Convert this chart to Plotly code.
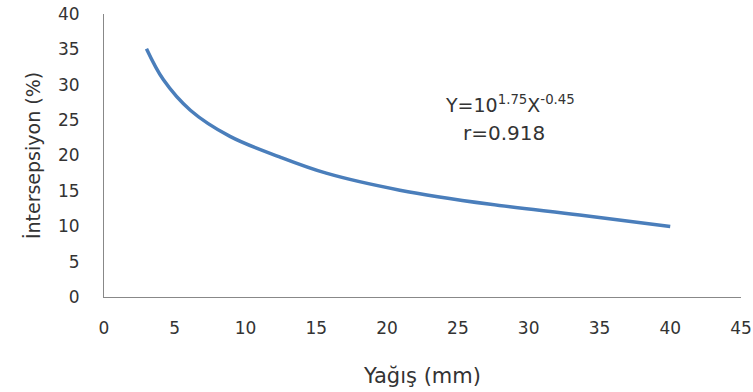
import plotly.graph_objects as go

yagis = [3.0, 4.2, 6.1, 8.9, 12.4, 15.7, 20.9, 27.3, 33.6, 40.0]
intersepsiyon = [35.1, 30.7, 26.4, 22.7, 19.8, 17.5, 15.1, 13.1, 11.6, 9.95]

x_ticks = [0, 5, 10, 15, 20, 25, 30, 35, 40, 45]
y_ticks = [0, 5, 10, 15, 20, 25, 30, 35, 40]

fig = go.Figure()
fig.add_trace(go.Scatter(
    x=yagis, y=intersepsiyon, mode="lines",
    line=dict(color="#4a7ebb", width=3.5, shape="spline", smoothing=1.0),
    showlegend=False, hoverinfo="skip",
))

font_fam = "DejaVu Sans, Verdana, sans-serif"
txt_col = "#333333"
fig.update_layout(
    width=753, height=392,
    margin=dict(l=104, r=12, t=14, b=95),
    paper_bgcolor="white", plot_bgcolor="white",
    font=dict(family=font_fam, size=17, color=txt_col),
    xaxis=dict(
        range=[0, 45], tickvals=x_ticks, showgrid=False, zeroline=False,
        showline=True, linecolor="#888888", linewidth=1, ticks="",
        ticklabelstandoff=16, automargin=False, ticklabeloverflow="allow",
        title=dict(text="Yağış (mm)", font=dict(size=21), standoff=30),
    ),
    yaxis=dict(
        range=[0, 40], tickvals=y_ticks, showgrid=False, zeroline=False,
        showline=True, linecolor="#888888", linewidth=1, ticks="",
        ticklabelstandoff=20, automargin=False, ticklabeloverflow="allow",
        title=dict(text="İntersepsiyon (%)", font=dict(size=19), standoff=12),
    ),
)
fig.add_annotation(
    x=23.94, y=27.3, xref="x", yref="y", xanchor="left", yanchor="middle",
    text="Y=10<sup>1.75</sup>X<sup>-0.45</sup>", showarrow=False,
    font=dict(size=19, family=font_fam, color=txt_col),
)
fig.add_annotation(
    x=25.2, y=23.2, xref="x", yref="y", xanchor="left", yanchor="middle",
    text="r=0.918", showarrow=False,
    font=dict(size=20, family=font_fam, color=txt_col),
)

fig.write_html(
    "out.html",
    config={"displayModeBar": False, "staticPlot": True},
    post_script="document.body.style.margin='0';document.body.style.overflow='hidden';",
)
